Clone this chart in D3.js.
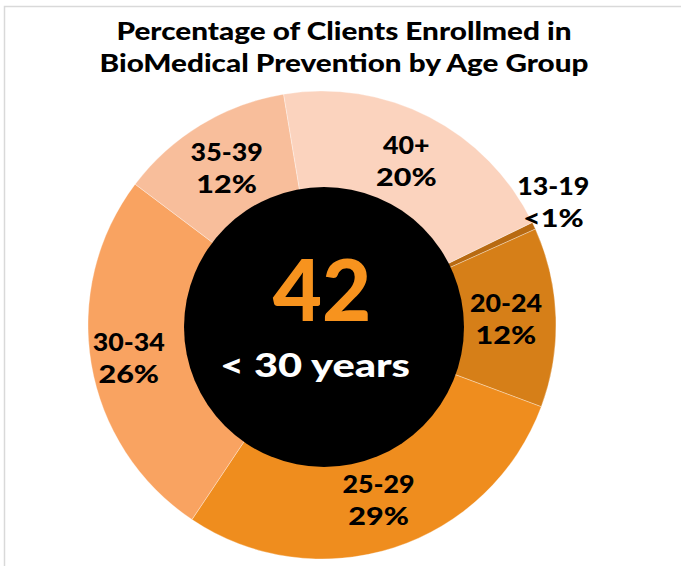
<!DOCTYPE html>
<html>
<head>
<meta charset="utf-8">
<script src="https://cdn.jsdelivr.net/npm/d3@7"></script>
<style>
  html, body { margin: 0; padding: 0; background: #fff; }
  svg { display: block; }
  text { font-family: Lato, "Open Sans", sans-serif; font-weight: 900; }
</style>
</head>
<body>
<svg id="chart" width="681" height="566"></svg>
<script>
// ---- data ----
const categories = ["13-19", "20-24", "25-29", "30-34", "35-39", "40+"];
const values = [0.5, 12.4, 28.7, 25.9, 12.1, 20.4];
const valueLabels = ["<1%", "12%", "29%", "26%", "12%", "20%"];
const colors = ["#B86A12", "#D67F18", "#EF8D1E", "#F9A361", "#F8BE9B", "#FBD3BE"];
const titleLines = ["Percentage of Clients Enrollmed in", "BioMedical Prevention by Age Group"];
const centerValue = "42";
const centerLabel = "< 30 years";

// ---- layout ----
const svg = d3.select("#chart");
const cx = 322, cy = 325, R = 234, r0 = 128;

svg.append("rect").attr("x", 4.5).attr("y", 6.5).attr("width", 720).attr("height", 620)
  .attr("fill", "#fff").attr("stroke", "#d9d9d9").attr("stroke-width", 1.5);

// title
const titleWidths = [455, 489];
svg.selectAll("text.title").data(titleLines).join("text")
  .attr("class", "title")
  .attr("x", 344)
  .attr("y", (d, i) => 40 + i * 32)
  .attr("text-anchor", "middle")
  .attr("font-size", 25)
  .attr("textLength", (d, i) => titleWidths[i])
  .attr("lengthAdjust", "spacingAndGlyphs")
  .attr("fill", "#000")
  .text(d => d);

const data = categories.map((c, i) => ({ cat: c, value: values[i], label: valueLabels[i], color: colors[i] }));
const startDeg = 64;
const pie = d3.pie().sort(null).value(d => d.value)
  .startAngle(startDeg * Math.PI / 180)
  .endAngle((startDeg + 360) * Math.PI / 180);
const arcs = pie(data);
const arc = d3.arc().innerRadius(r0).outerRadius(R);

const g = svg.append("g").attr("transform", `translate(${cx},${cy})`);
g.selectAll("path.slice").data(arcs).join("path")
  .attr("class", "slice")
  .attr("d", arc)
  .attr("fill", d => d.data.color)
  .attr("stroke", "rgba(255,255,255,0.55)")
  .attr("stroke-width", 0.6);

// black centre circle
svg.append("circle").attr("cx", cx + 2).attr("cy", cy + 2).attr("r", 140).attr("fill", "#000");

// slice labels
const labelR = { "13-19": 262, "30-34": 196 };
const labelPos = d => {
  const rr = labelR[d.data.cat] || 184;
  const a = d.data.cat === "13-19" ? (62 * Math.PI / 180) : (d.startAngle + d.endAngle) / 2;
  return [rr * Math.sin(a), -rr * Math.cos(a)];
};
const lg = g.selectAll("g.lab").data(arcs).join("g").attr("class", "lab")
  .attr("transform", d => { const p = labelPos(d); return `translate(${p[0]},${p[1]})`; });
const widen = (sel, k) => sel.each(function () {
  const w = this.getComputedTextLength();
  d3.select(this).attr("textLength", w * k).attr("lengthAdjust", "spacingAndGlyphs");
});
lg.append("text").attr("text-anchor", "middle").attr("font-size", 25).attr("y", -7)
  .attr("fill", "#000").text(d => d.data.cat).call(widen, 1.07);
lg.append("text").attr("text-anchor", "middle").attr("font-size", 25).attr("y", 25)
  .attr("fill", "#000").text(d => d.data.label).call(widen, 1.22);

// centre texts
svg.append("text").attr("x", cx).attr("y", 321).attr("text-anchor", "middle")
  .attr("font-size", 85).attr("fill", "#F7931E").text(centerValue);
svg.append("text").attr("x", 315).attr("y", 377).attr("text-anchor", "middle")
  .attr("font-size", 33).attr("fill", "#fff")
  .attr("textLength", 190).attr("lengthAdjust", "spacingAndGlyphs").text(centerLabel);
</script>
</body>
</html>
